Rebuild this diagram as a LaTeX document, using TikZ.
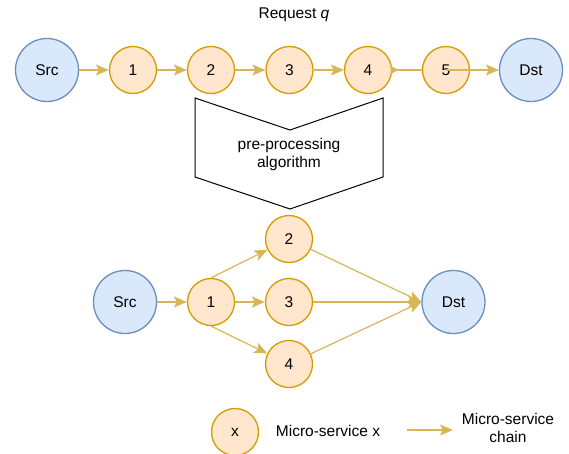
\documentclass[tikz,border=0pt]{standalone}
\usepackage{fontspec}
\setmainfont{Liberation Sans}
\usetikzlibrary{arrows.meta,calc}
\definecolor{ofill}{HTML}{FFE6CC}
\definecolor{odraw}{HTML}{D79B00}
\definecolor{bfill}{HTML}{DAE8FC}
\definecolor{bdraw}{HTML}{6C8EBF}
\definecolor{arrc}{HTML}{D6B656}
\tikzset{
  ms/.style={circle,draw=odraw,fill=ofill,line width=1.3pt,minimum size=47pt,inner sep=0pt,font=\fontsize{15.5}{18}\selectfont},
  ep/.style={circle,draw=bdraw,fill=bfill,line width=1.3pt,minimum size=63pt,inner sep=0pt,font=\fontsize{15.5}{18}\selectfont},
  lbl/.style={font=\fontsize{15.5}{18}\selectfont,align=center,inner sep=0pt},
  edge/.style={draw=arrc,line width=1.2pt,-{Stealth[length=13pt,width=11pt,inset=3pt]}},
  plain/.style={draw=arrc,line width=1.2pt}
}
\begin{document}
\begin{tikzpicture}[x=1pt,y=-1pt]
\useasboundingbox (0,0) rectangle (569,454);
% top row
\node[lbl] (req) at (294,15) {Request \textit{q}};
\node[ep] (src) at (47,70) {Src};
\node[ms] (a1) at (133,70) {1};
\node[ms] (a2) at (211,70) {2};
\node[ms] (a3) at (289.5,70) {3};
\node[ms] (a4) at (368,70) {4};
\node[ms] (a5) at (446,70) {5};
\node[ep] (dst) at (531,70) {Dst};
\draw[edge] (src) -- (a1);
\draw[edge] (a1) -- (a2);
\draw[edge] (a2) -- (a3);
\draw[edge] (a3) -- (a4);
\draw[plain] (a4) -- (a5.west);
\fill[arrc] ($(a4.east)+(-1,-4)$) -- ($(a4.east)+(6,0)$) -- ($(a4.east)+(-1,4)$) -- cycle;
\draw[edge] (a5.center) -- (dst);
% pre-processing chevron
\draw[line width=1pt,black] (195,98) -- (290,130) -- (383,98) -- (383,177) -- (290,209) -- (195,177) -- cycle;
\node[lbl] (pp) at (289,154) {pre-processing\\algorithm};
% bottom graph
\node[ep] (bsrc) at (125,302) {Src};
\node[ms] (b1) at (211,302) {1};
\node[ms] (b2) at (289,239) {2};
\node[ms] (b3) at (289,302) {3};
\node[ms] (b4) at (289,364) {4};
\node[ep] (bdst) at (453.5,302) {Dst};
\draw[edge] (bsrc) -- (b1);
\draw[edge] (b1.north) -- (b2);
\draw[edge] (b1) -- (b3);
\draw[edge] (b1.south) -- (b4);
\draw[edge] (b2) -- (bdst.west);
\draw[edge] (b3) -- (bdst.west);
\draw[edge] (b4) -- (bdst.west);
% legend
\node[ms] (lx) at (235,432) {x};
\node[lbl] (lxt) at (328,431) {Micro-service x};
\coordinate (la) at (407,430);
\coordinate (lb) at (453,430);
\draw[edge] (la) -- (lb);
\node[lbl] (lct) at (508,428) {Micro-service\\chain};
\end{tikzpicture}
\end{document}
